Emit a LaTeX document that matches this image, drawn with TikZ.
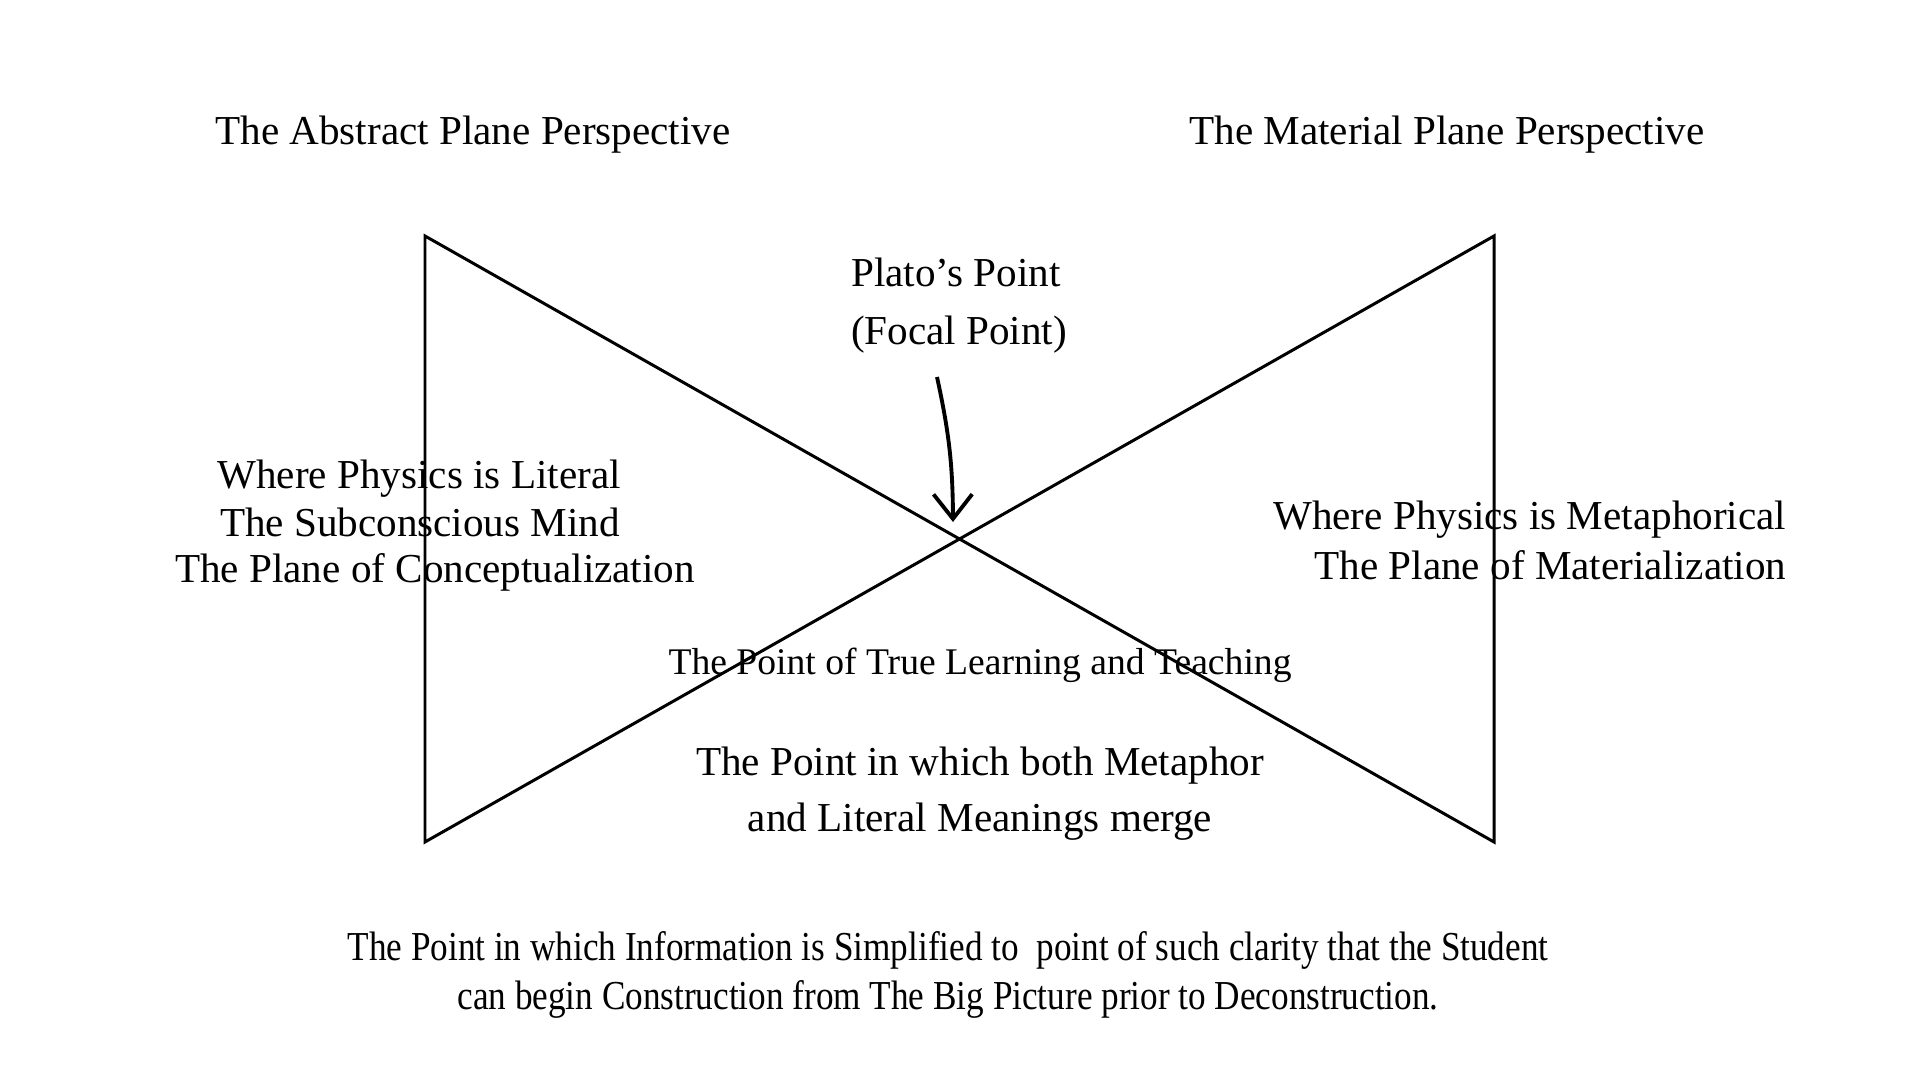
\documentclass[tikz,border=0pt]{standalone}
\usepackage{fontspec}
\setmainfont{Liberation Serif}
\usetikzlibrary{arrows.meta}
\newcommand{\narrowtext}[1]{\scalebox{0.855}[1]{#1}}
\tikzset{
  caption/.style={inner sep=0pt, font=\fontsize{11.7}{14}\selectfont},
  smallcaption/.style={inner sep=0pt, font=\fontsize{10.7}{13}\selectfont},
  bowline/.style={line width=0.85pt, line join=miter}
}
\begin{document}
\begin{tikzpicture}[x=0.01cm, y=-0.01cm]
  \useasboundingbox (0,0) rectangle (1920,1080);
  % Bowtie of the two planes
  \coordinate (tl) at (425,236);
  \coordinate (bl) at (425,842);
  \coordinate (tr) at (1494,236);
  \coordinate (br) at (1494,842);
  \draw[bowline] (tl) -- (br) -- (tr) -- (bl) -- cycle;
  % Headings
  \node[caption] (abstract) at (473,135) {The Abstract Plane Perspective};
  \node[caption] (material) at (1447,135) {The Material Plane Perspective};
  % Focal point
  \node[caption] (plato) at (956,272) {Plato’s Point};
  \node[caption] (focal) at (959,335) {(Focal Point)};
  \coordinate (arrowtail) at (937,377);
  \coordinate (arrowtip) at (953,522);
  \draw[line width=1.1pt, -{Straight Barb[length=7pt, width=11pt]}] (arrowtail) to[bend left=6] (arrowtip);
  % Left side
  \foreach \x/\y/\txt [count=\i] in {419/479/Where Physics is Literal, 420/522/The Subconscious Mind, 435/572/The Plane of Conceptualization}
    \node[caption] (left\i) at (\x,\y) {\txt};
  % Right side
  \node[caption, anchor=east] (right1) at (1787,520) {Where Physics is Metaphorical};
  \node[caption, anchor=east] (right2) at (1787,565) {The Plane of Materialization};
  % Middle
  \node[smallcaption] (learning) at (980,665) {The Point of True Learning and Teaching};
  \node[caption] (merge1) at (980,766) {The Point in which both Metaphor};
  \node[caption] (merge2) at (980,822) {and Literal Meanings merge};
  % Bottom note
  \node[caption] (note1) at (948,950) {\narrowtext{The Point in which Information is Simplified to\ \ point of such clarity that the Student}};
  \node[caption] (note2) at (948,999) {\narrowtext{can begin Construction from The Big Picture prior to Deconstruction.}};
\end{tikzpicture}
\end{document}
